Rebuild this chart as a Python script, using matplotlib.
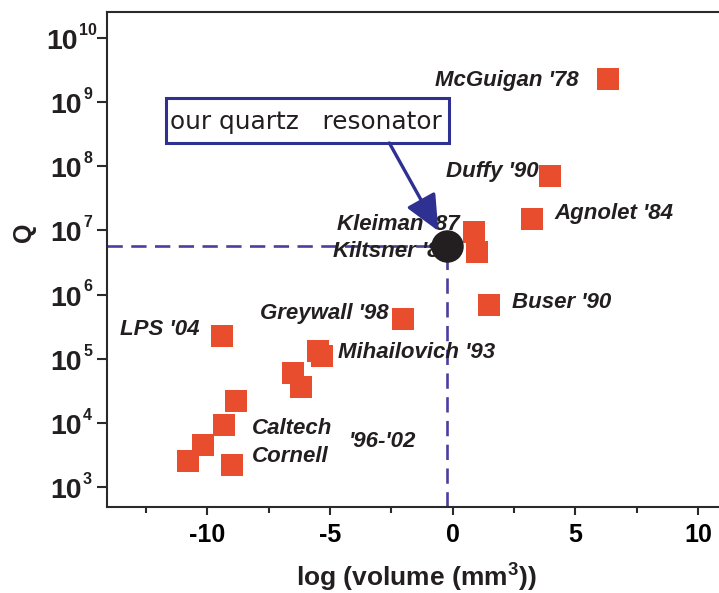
import matplotlib
matplotlib.use("Agg")
import matplotlib.pyplot as plt
import matplotlib.patches as patches
import matplotlib.transforms as mtransforms
from matplotlib.ticker import FixedLocator, MultipleLocator, NullLocator

# resonators from the literature: log10(volume / mm^3) and quality factor
log_volume = [6.35, 3.98, 3.25, 0.88, 1.01, 1.47, -2.03, -5.49, -5.32, -9.39,
              -6.51, -6.20, -8.84, -9.30, -10.19, -10.79, -9.00]
q_factor = [2.26e9, 7.0e7, 1.52e7, 9.3e6, 4.66e6, 6.9e5, 4.1e5, 1.33e5, 1.11e5, 2.29e5,
            6.1e4, 3.7e4, 2.2e4, 9.3e3, 4.6e3, 2.56e3, 2.25e3]

# this work
ours_log_volume = -0.24
ours_q = 5.75e6

ref_labels = ["McGuigan '78", "Duffy '90", "Agnolet '84", "Kleiman '87", "Kiltsner '88",
              "Buser '90", "Greywall '98", "Mihailovich '93", "LPS '04",
              "Caltech", "Cornell", "'96-'02"]
# label anchor: x, log10(Q) of baseline, alignment
label_pos = [(5.12, 9.248, 'right'), (3.49, 7.836, 'right'), (4.14, 7.173, 'left'),
             (-4.70, 7.003, 'left'), (-4.86, 6.590, 'left'), (2.43, 5.787, 'left'),
             (-2.62, 5.620, 'right'), (-4.66, 5.009, 'left'), (-13.54, 5.371, 'left'),
             (-8.17, 3.825, 'left'), (-8.17, 3.389, 'left'), (-4.25, 3.632, 'left')]

y_decades = [3, 4, 5, 6, 7, 8, 9, 10]
x_ticks = [-10, -5, 0, 5, 10]

W, H = 719, 593
fig = plt.figure(figsize=(W / 100, H / 100), dpi=100)
ax = fig.add_axes([107 / W, (H - 506.7) / H, (W - 107) / W, (506.7 - 11.7) / H])

xmin, xmax = -14.09, 10.86
ymin, ymax = 10 ** 2.698, 10 ** 10.405
ax.set_xlim(xmin, xmax)
ax.set_yscale('log')
ax.set_ylim(ymin, ymax)

orange = '#e84d2e'
navy = '#2e3192'
dash_col = '#4a3fa0'
ink = '#231f20'

ax.plot(log_volume, q_factor, ls='none', marker='s', ms=16, mew=0, color=orange, zorder=3)

lw = 1.9
ax.plot([xmin, ours_log_volume], [ours_q, ours_q], color=dash_col, lw=lw,
        dashes=(5.8, 3.2), zorder=2)
ax.plot([ours_log_volume, ours_log_volume], [ymin, ours_q], color=dash_col, lw=lw,
        dashes=(5.8, 3.2), zorder=2)
ax.plot([ours_log_volume], [ours_q], ls='none', marker='o', ms=23.4, mew=0,
        color=ink, zorder=5)

for text, (x, ly, ha) in zip(ref_labels, label_pos):
    ax.text(x, 10 ** ly, text, ha=ha, va='baseline', fontsize=16,
            family='Liberation Sans', weight='bold', style='italic',
            color=ink, zorder=4)

# callout box with arrow
box = patches.Rectangle((-11.70, 10 ** 8.361), 11.54, 10 ** 9.057 - 10 ** 8.361,
                        fill=True, fc='white', ec=navy, lw=2.2, zorder=6)
ax.add_patch(box)
ax.text(-5.98, 10 ** 8.574, 'our quartz   resonator', ha='center', va='baseline',
        fontsize=17.8, family='DejaVu Sans', color=ink, zorder=7)
ax.annotate('', xy=(-0.58, 10 ** 6.99), xytext=(-2.58, 10 ** 8.361),
            arrowprops=dict(arrowstyle='-|>,head_length=1.1,head_width=0.5',
                            mutation_scale=20, lw=2.4, color=navy,
                            shrinkA=0, shrinkB=0), zorder=8)

# axes styling
for side in ['left', 'bottom', 'top']:
    ax.spines[side].set_linewidth(1.5)
    ax.spines[side].set_color('#2a2a2a')
ax.spines['right'].set_visible(False)

ax.xaxis.set_major_locator(FixedLocator(x_ticks))
ax.xaxis.set_minor_locator(MultipleLocator(2.5))
ax.set_xticklabels([str(t) for t in x_ticks], family='Liberation Sans',
                   weight='bold', fontsize=18)
ax.yaxis.set_major_locator(FixedLocator([10.0 ** d for d in y_decades]))
ax.yaxis.set_minor_locator(NullLocator())
ax.set_yticklabels([])

ax.tick_params(axis='x', which='major', direction='out', length=6, width=1.5,
               pad=6, color='#2a2a2a')
ax.tick_params(axis='x', which='minor', direction='out', length=4, width=1.5,
               color='#2a2a2a')
ax.tick_params(axis='y', which='major', direction='out', length=7, width=1.5,
               color='#2a2a2a')
ax.tick_params(top=False, right=False)

# y tick labels as "10" with a small raised exponent
ylab = mtransforms.blended_transform_factory(ax.transAxes, ax.transData)
for d in y_decades:
    shift = 4 if d >= 10 else 0
    ax.text((-25 - shift) / 612, 10 ** (d - 0.17), '10', transform=ylab, ha='right',
            va='baseline', family='Liberation Sans', weight='bold', fontsize=20.5,
            color=ink, clip_on=False)
    ax.text((-24 - shift) / 612, 10 ** (d + 0.05), str(d), transform=ylab, ha='left',
            va='baseline', family='Liberation Sans', weight='bold', fontsize=11.5,
            color=ink, clip_on=False)

fig.text(24 / W, 1 - 232 / H, 'Q', rotation=90, ha='center', va='center',
         family='Liberation Sans', weight='bold', fontsize=18, color=ink)
fig.text(416 / W, 1 - 577 / H, r'log (volume (mm$^{\mathregular{3}}$))', ha='center',
         va='center', family='Liberation Sans', weight='bold', fontsize=19, color=ink)

fig.savefig('out.png', dpi=100)
